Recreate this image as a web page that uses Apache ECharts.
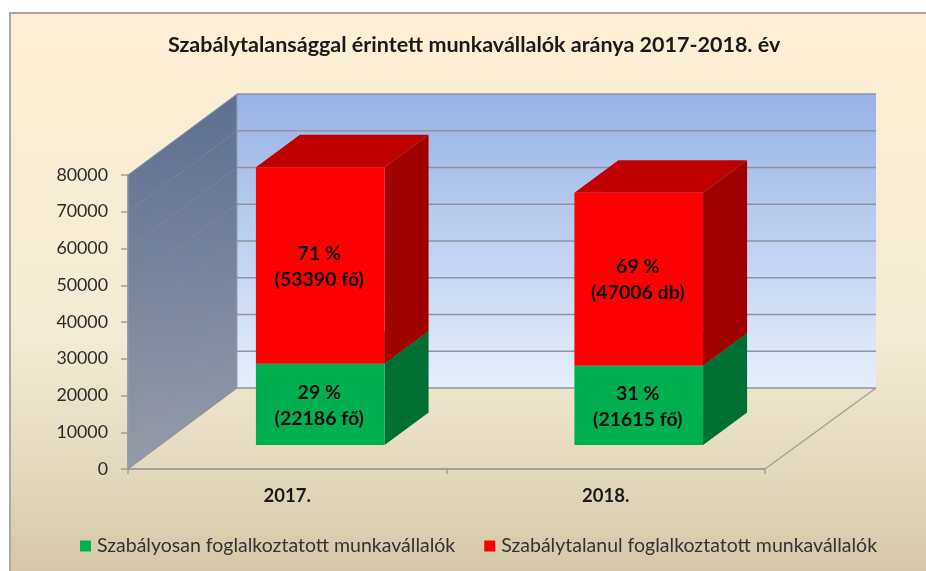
<!DOCTYPE html>
<html>
<head>
<meta charset="utf-8">
<style>html,body{margin:0;padding:0;background:#fff}#c{width:926px;height:571px}</style>
<script src="https://cdn.jsdelivr.net/npm/echarts@6/dist/echarts.min.js"></script>
</head>
<body>
<div id="c"></div>
<script>
const titleText = 'Szabálytalansággal érintett munkavállalók aránya 2017-2018. év';
const categories = ['2017.', '2018.'];
const regularName = 'Szabályosan foglalkoztatott munkavállalók';
const irregularName = 'Szabálytalanul foglalkoztatott munkavállalók';
const regularValues = [22186, 21615];
const irregularValues = [53390, 47006];
const regularLabels = ['29 %\n(22186 fő)', '31 %\n(21615 fő)'];
const irregularLabels = ['71 %\n(53390 fő)', '69 %\n(47006 db)'];
const yTicks = [0, 10000, 20000, 30000, 40000, 50000, 60000, 70000, 80000];

const FONT = 'Lato';
const DX = 109, DY = -81, BACK_EXTRA = 2;   // projected depth of the plot box
const NEAR_X = 33, NEAR_Y = -24, FAR_X = 77, FAR_Y = -56.5; // bar position within the depth
const BAR_WIDTH = 0.404;

const grad = (x, y, x2, y2, a, b) => new echarts.graphic.LinearGradient(x, y, x2, y2, [
  { offset: 0, color: a }, { offset: 1, color: b }
]);

function renderWalls(params, api) {
  const cs = params.coordSys;
  const v = api.value(0);
  const y = api.coord([0, v])[1];
  const x0 = cs.x, x1 = cs.x + cs.width;
  const children = [];
  if (params.dataIndex === 0) {
    const top = cs.y, bot = cs.y + cs.height;
    children.push({
      type: 'rect',
      shape: { x: x0 + DX, y: top + DY, width: x1 - x0 + BACK_EXTRA, height: bot - top },
      style: { fill: grad(0, 0, 0, 1, '#97b2e5', '#e6eefb') }
    });
    children.push({
      type: 'polygon',
      shape: { points: [[x0, bot], [x0 + DX, bot + DY], [x0 + DX, top + DY], [x0, top]] },
      style: { fill: grad(0, 0, 0.25, 1, '#5c6e92', '#959ba8'), stroke: '#9a9ea8', lineWidth: 1 }
    });
    children.push({
      type: 'line',
      shape: { x1: x1, y1: bot, x2: x1 + DX + BACK_EXTRA, y2: bot + DY },
      style: { stroke: '#a3a19a', lineWidth: 1.5 }
    });
  }
  children.push({
    type: 'line',
    shape: { x1: x0, y1: y, x2: x0 + DX, y2: y + DY },
    style: { stroke: '#8b8c8c', lineWidth: 1, opacity: 0.6 }
  });
  children.push({
    type: 'line',
    shape: { x1: x0 + DX, y1: y + DY, x2: x1 + DX + BACK_EXTRA, y2: y + DY },
    style: { stroke: '#8e939f', lineWidth: 1.6 }
  });
  return { type: 'group', children };
}

function barRenderer(front, top, side, labels) {
  return function (params, api) {
    const i = api.value(0), lo = api.coord([i, api.value(1)]), hi = api.coord([i, api.value(2)]);
    const w = api.size([1, 0])[0] * BAR_WIDTH;
    const l = lo[0] - w / 2 + NEAR_X, r = lo[0] + w / 2 + NEAR_X;
    const b = lo[1] + NEAR_Y, t = hi[1] + NEAR_Y;
    const sx = FAR_X - NEAR_X, sy = FAR_Y - NEAR_Y;
    return {
      type: 'group',
      children: [
        { type: 'polygon', shape: { points: [[l, t], [r, t], [r + sx, t + sy], [l + sx, t + sy]] }, style: { fill: top } },
        { type: 'polygon', shape: { points: [[r, b], [r + sx, b + sy], [r + sx, t + sy], [r, t]] }, style: { fill: side } },
        { type: 'polygon', shape: { points: [[l, b], [r, b], [r, t], [l, t]] }, style: { fill: front } },
        {
          type: 'text', z2: 10,
          style: {
            x: (l + r) / 2 - 1, y: (t + b) / 2 + 1, text: labels[i], align: 'center', verticalAlign: 'middle',
            font: 'bold 19.5px ' + FONT, lineHeight: 26, fill: '#0c0c0c'
          }
        }
      ]
    };
  };
}

const chart = echarts.init(document.getElementById('c'), null, { renderer: 'canvas' });
chart.setOption({
  animation: false,
  backgroundColor: '#ffffff',
  textStyle: { fontFamily: FONT },
  graphic: [{
    type: 'rect', z: -10, silent: true,
    shape: { x: 10, y: 13, width: 940, height: 580 },
    style: {
      fill: new echarts.graphic.LinearGradient(0, 0, 0, 1, [
        { offset: 0, color: '#fdefd4' },
        { offset: 0.55, color: '#f3ebd5' },
        { offset: 0.8, color: '#e2d8bd' },
        { offset: 1, color: '#d2c3a1' }
      ]),
      stroke: '#a8a8a8', lineWidth: 2
    }
  }],
  title: {
    text: titleText, left: 163, top: 29,
    textStyle: { fontFamily: FONT, fontWeight: 'bold', fontSize: 21.5, color: '#1a1a1a' }
  },
  legend: {
    data: [regularName, irregularName],
    left: 75, top: 531, itemWidth: 11, itemHeight: 11, itemGap: 29, icon: 'rect',
    textStyle: { fontFamily: FONT, fontSize: 19.5, color: '#333333', padding: [0, 0, 0, 1] }
  },
  grid: { left: 128, top: 175, width: 637, height: 294 },
  xAxis: {
    type: 'category', data: categories,
    axisLine: { lineStyle: { color: '#a09f98', width: 2 } },
    axisTick: { show: true, length: 5, lineStyle: { color: '#a09f98', width: 1.5 } },
    axisLabel: { fontFamily: FONT, fontWeight: 'bold', fontSize: 18.5, color: '#1a1a1a', margin: 18 },
    splitLine: { show: false }
  },
  yAxis: {
    type: 'value', min: 0, max: 80000, interval: 10000,
    axisLine: { show: true, lineStyle: { color: '#a09f98', width: 2 } },
    axisTick: { show: true, length: 7, lineStyle: { color: '#a09f98', width: 1.5 } },
    axisLabel: { fontFamily: FONT, fontSize: 17.8, color: '#2b2b2b', margin: 20, formatter: v => String(v) },
    splitLine: { show: false }
  },
  series: [
    {
      type: 'custom', name: 'Falak', coordinateSystem: 'cartesian2d', z: 1, silent: true, clip: false,
      renderItem: renderWalls,
      data: yTicks.map(v => [v]),
      encode: { y: 0 }
    },
    {
      type: 'custom', name: regularName, coordinateSystem: 'cartesian2d', z: 3, clip: false,
      itemStyle: { color: '#00b050' },
      renderItem: barRenderer('#00b050', '#008a3e', '#006f33', regularLabels),
      data: regularValues.map((v, i) => [i, 0, v]),
      encode: { x: 0, y: [1, 2] }
    },
    {
      type: 'custom', name: irregularName, coordinateSystem: 'cartesian2d', z: 4, clip: false,
      itemStyle: { color: '#ff0000' },
      renderItem: barRenderer('#ff0000', '#c00000', '#a00000', irregularLabels),
      data: irregularValues.map((v, i) => [i, regularValues[i], regularValues[i] + v]),
      encode: { x: 0, y: [1, 2] }
    }
  ]
});
</script>
</body>
</html>
